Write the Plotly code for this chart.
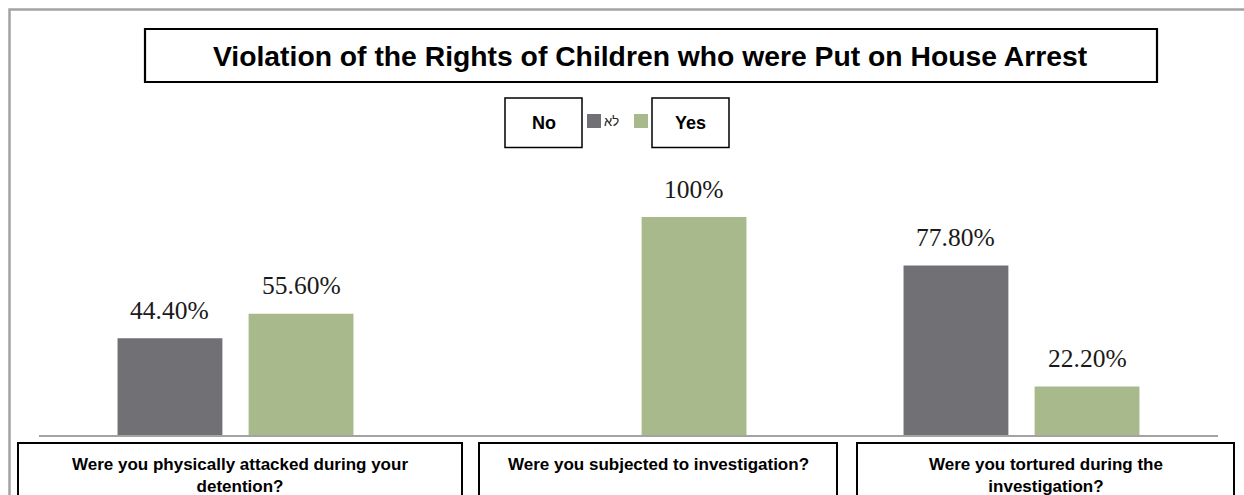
import plotly.graph_objects as go

# ---- data ----
categories = [
    "Were you physically attacked during your<br>detention?",
    "Were you subjected to investigation?",
    "Were you tortured during the<br>investigation?",
]
no_values = [44.4, None, 77.8]
yes_values = [55.6, 100.0, 22.2]
series_names = ["לא", "Yes"]

# ---- layout constants (pixels) ----
W, H = 1244, 495
ML, MR, MT, MB = 39, 26, 110, 60
PW, PH = W - ML - MR, H - MT - MB
Y_MAX = PH / 2.18          # 100% spans ~218 px
BARGAP, BARGROUPGAP = 0.333, 0.2

GRAY = "#717075"
GREEN = "#a8b98b"
SANS = "Arial, Liberation Sans, sans-serif"
SERIF = "Garamond, Liberation Serif, serif"


def px(x):
    return (x - ML) / PW


def py(y):
    return (H - MB - y) / PH


def fmt(v):
    return f"{v:.0f}%" if float(v).is_integer() else f"{v:.2f}%"


fig = go.Figure()
fig.add_trace(go.Bar(name=series_names[0], x=categories, y=no_values,
                     marker=dict(color=GRAY, line=dict(width=0))))
fig.add_trace(go.Bar(name=series_names[1], x=categories, y=yes_values,
                     marker=dict(color=GREEN, line=dict(width=0))))

# value labels above each bar
slot_px = PW / len(categories) * (1 - BARGAP) / 2
annotations = []
for vals, shift in ((no_values, -slot_px / 2), (yes_values, slot_px / 2)):
    for cat, v in zip(categories, vals):
        if v is None:
            continue
        annotations.append(dict(
            x=cat, y=v, xref="x", yref="y", text=fmt(v), showarrow=False,
            xshift=shift, yshift=28, yanchor="middle",
            font=dict(family=SERIF, size=25.5, color="#1a1a1a")))

shapes = []
# outer frame
shapes.append(dict(type="rect", xref="paper", yref="paper",
                   x0=px(9.5), y0=py(9.5), x1=px(1300), y1=py(560),
                   line=dict(color="#a3a3a3", width=2.5)))
# title box
shapes.append(dict(type="rect", xref="paper", yref="paper",
                   x0=px(145), y0=py(29), x1=px(1157), y1=py(82),
                   line=dict(color="black", width=2.2), fillcolor="white"))
annotations.append(dict(x=px(650), y=py(56), xref="paper", yref="paper",
                        text="<b>Violation of the Rights of Children who were Put on House Arrest</b>",
                        showarrow=False, xanchor="center", yanchor="middle",
                        font=dict(family=SANS, size=28.3, color="black")))

# legend
for x0, x1, label in ((505, 582, "No"), (652, 729, "Yes")):
    shapes.append(dict(type="rect", xref="paper", yref="paper",
                       x0=px(x0), y0=py(98), x1=px(x1), y1=py(147.5),
                       line=dict(color="black", width=1.5)))
    annotations.append(dict(x=px((x0 + x1) / 2), y=py(123), xref="paper", yref="paper",
                            text=f"<b>{label}</b>", showarrow=False,
                            xanchor="center", yanchor="middle",
                            font=dict(family=SANS, size=18, color="black")))
for x0, color in ((587, GRAY), (634, GREEN)):
    shapes.append(dict(type="rect", xref="paper", yref="paper",
                       x0=px(x0), y0=py(114), x1=px(x0 + 14), y1=py(128),
                       line=dict(width=0), fillcolor=color))
annotations.append(dict(x=px(611), y=py(121), xref="paper", yref="paper",
                        text=series_names[0], showarrow=False,
                        xanchor="center", yanchor="middle",
                        font=dict(family=SANS, size=13, color="#222")))

# category boxes under the axis
boxes = [(18, 462), (479, 837), (857, 1234)]
for (x0, x1), cat in zip(boxes, categories):
    shapes.append(dict(type="rect", xref="paper", yref="paper",
                       x0=px(x0), y0=py(443), x1=px(x1), y1=py(540),
                       line=dict(color="black", width=2)))
    annotations.append(dict(x=px((x0 + x1) / 2), y=py(453), xref="paper", yref="paper",
                            text=f"<b>{cat}</b>", showarrow=False,
                            xanchor="center", yanchor="top", align="center",
                            font=dict(family=SANS, size=17, color="black")))

fig.update_layout(
    width=W, height=H,
    margin=dict(l=ML, r=MR, t=MT, b=MB),
    paper_bgcolor="white", plot_bgcolor="white",
    barmode="group", bargap=BARGAP, bargroupgap=BARGROUPGAP,
    showlegend=False,
    shapes=shapes, annotations=annotations,
    xaxis=dict(showticklabels=False, ticks="", showgrid=False, zeroline=False,
               showline=True, linecolor="#a3a3a3", linewidth=2),
    yaxis=dict(range=[0, Y_MAX], visible=False, showgrid=False, zeroline=False),
)

fig.write_html("out.html")
